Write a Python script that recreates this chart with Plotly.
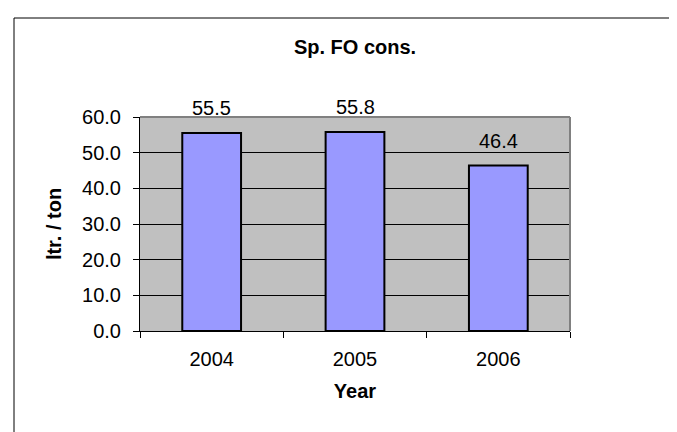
import plotly.graph_objects as go

years = ["2004", "2005", "2006"]
values = [55.5, 55.8, 46.4]
y_ticks = [0, 10, 20, 30, 40, 50, 60]
y_tick_labels = ["0.0", "10.0", "20.0", "30.0", "40.0", "50.0", "60.0"]

FONT = "Liberation Sans, Arial, sans-serif"
FS = 20

fig = go.Figure()
fig.add_trace(go.Bar(
    x=years, y=values,
    marker=dict(color="#9999FF", line=dict(color="#000000", width=2)),
    width=0.41,
    hoverinfo="skip",
))

for i, v in enumerate(values):
    fig.add_annotation(x=i, y=v, xref="x", yref="y", text=f"{v:.1f}", showarrow=False,
                       yanchor="bottom", yshift=12,
                       font=dict(family=FONT, size=FS, color="#000000"))

fig.update_layout(
    width=677, height=432,
    margin=dict(l=132, r=115, t=109, b=109),
    paper_bgcolor="white",
    plot_bgcolor="#C0C0C0",
    showlegend=False,
    title=dict(text="<b>Sp. FO cons.</b>", x=347 / 677, xanchor="center",
               y=1 - 39 / 432, yanchor="middle",
               font=dict(family=FONT, size=FS, color="#000000")),
    font=dict(family=FONT, size=FS, color="#000000"),
    shapes=[
        dict(type="rect", xref="paper", yref="paper",
             x0=(6 - 132) / 430, x1=2.0, y0=-2.0, y1=(323 - 10) / 214,
             line=dict(color="#000000", width=1), fillcolor="rgba(0,0,0,0)", layer="below"),
        dict(type="line", xref="paper", yref="paper", x0=0, x1=1, y0=1, y1=1,
             line=dict(color="#808080", width=2)),
        dict(type="line", xref="paper", yref="paper", x0=1, x1=1, y0=0, y1=1,
             line=dict(color="#808080", width=2)),
    ],
)

fig.update_xaxes(
    type="category", range=[-0.5, 2.5],
    showline=True, linecolor="#000000", linewidth=1,
    ticks="outside", ticklen=6, tickcolor="#000000", tickson="boundaries",
    ticklabelstandoff=10,
    showgrid=False,
    tickfont=dict(family=FONT, size=FS),
    title=dict(text="<b>Year</b>", font=dict(family=FONT, size=FS), standoff=14),
)
fig.update_yaxes(
    range=[0, 60], tickvals=y_ticks, ticktext=y_tick_labels,
    showline=True, linecolor="#000000", linewidth=1,
    ticks="outside", ticklen=6, tickcolor="#000000",
    ticklabelstandoff=8,
    showgrid=True, gridcolor="#000000", gridwidth=1,
    zeroline=False,
    tickfont=dict(family=FONT, size=FS),
    title=dict(text="<b>ltr. / ton</b>", font=dict(family=FONT, size=FS), standoff=15),
)

fig.write_html("out.html")
